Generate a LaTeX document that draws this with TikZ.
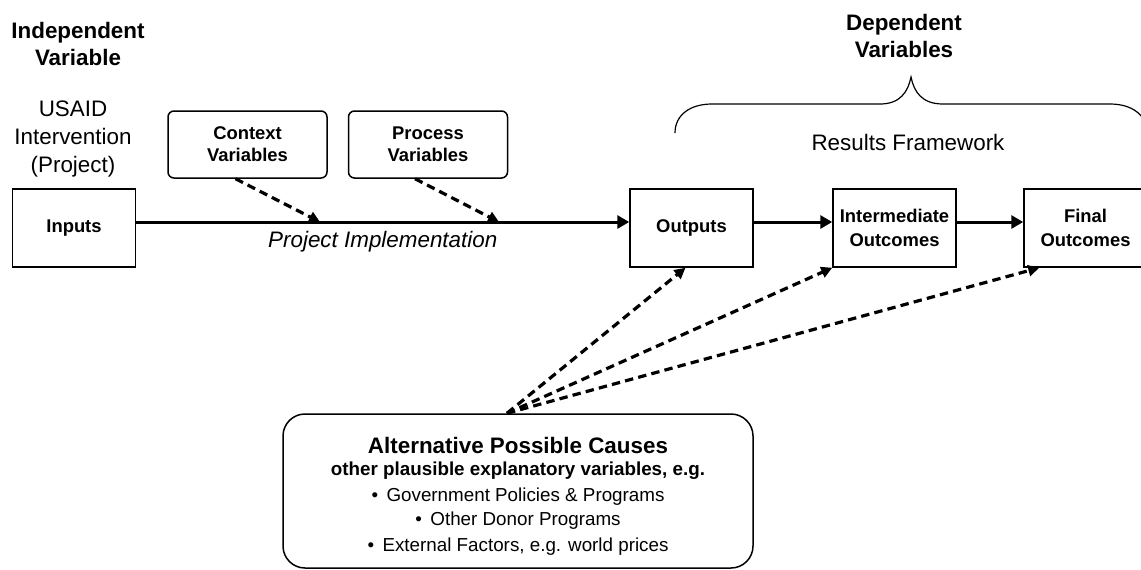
\documentclass[tikz,border=0pt]{standalone}
\usepackage{fontspec}
\setmainfont{Liberation Sans}
\usetikzlibrary{arrows.meta}
\begin{document}
\begin{tikzpicture}[x=0.5pt,y=-0.5pt,
  box/.style={draw,line width=0.75pt,minimum width=61.5pt,minimum height=39pt,align=center,
    font=\fontsize{9.2}{11.8}\selectfont\bfseries,inner sep=1pt},
  varbox/.style={draw,line width=0.75pt,rounded corners=3pt,minimum width=79.5pt,minimum height=33.5pt,
    align=center,font=\fontsize{9.2}{11}\selectfont\bfseries,inner sep=1pt},
  causebox/.style={draw,line width=0.75pt,rounded corners=11pt,minimum width=235pt,minimum height=77pt,
    inner sep=0pt},
  causetext/.style={align=center,inner sep=0pt},
  flow/.style={line width=1.5pt,-{Triangle[length=6pt,width=6.5pt]}},
  influence/.style={line width=1.6pt,dash pattern=on 4.2pt off 2.6pt,-{Triangle[length=5.5pt,width=5.5pt]}},
  big/.style={font=\fontsize{11.2}{13.6}\selectfont,align=center,inner sep=0pt},
  brace/.style={line width=0.6pt},
]
\useasboundingbox (0,0) rectangle (1141,569);

% headings
\node[big,font=\fontsize{11.2}{13.6}\selectfont\bfseries] (indep) at (78,44) {Independent\\Variable};
\node[big,font=\fontsize{11.2}{14}\selectfont] (usaid) at (73,139) {USAID\\Intervention\\(Project)};
\node[big,font=\fontsize{11.2}{13.6}\selectfont\bfseries] (dep) at (904,36) {Dependent\\Variables};
\node[big] (rf) at (908,142) {Results Framework};

% boxes
\node[box] (inputs) at (74,228) {Inputs};
\node[box] (outputs) at (691.5,228) {Outputs};
\node[box] (inter) at (894.5,228) {Intermediate\\Outcomes};
\node[box] (final) at (1085.5,228) {Final\\Outcomes};
\node[varbox] (context) at (247.5,144.5) {Context\\Variables};
\node[varbox] (process) at (428,144.5) {Process\\Variables};

\node[causebox] (alt) at (518,491) {};
\node[causetext] (alttext) at (518,496) {%
  {\fontsize{11.2}{13}\selectfont\bfseries Alternative Possible Causes}\\[-1pt]
  {\fontsize{9.4}{11.5}\selectfont\bfseries other plausible explanatory variables, e.g.}\\[1pt]
  {\fontsize{9.4}{11.5}\selectfont \textbullet\hspace{0.45em}Government Policies \& Programs}\\[0pt]
  {\fontsize{9.4}{11.5}\selectfont \textbullet\hspace{0.45em}Other Donor Programs}\\[1pt]
  {\fontsize{9.4}{11.5}\selectfont \textbullet\hspace{0.45em}External Factors, e.g. world prices}};

% main flow
\draw[flow] ([yshift=3pt]inputs.east) -- ([yshift=3pt]outputs.west)
  node[pos=0.5,below=4pt,font=\fontsize{11.2}{13}\selectfont\itshape,inner sep=0pt] (impl) {Project Implementation};
\draw[flow] ([yshift=3pt]outputs.east) -- ([yshift=3pt]inter.west);
\draw[flow] ([yshift=3pt]inter.east) -- ([yshift=3pt]final.west);

% context / process influences
\coordinate (c1) at (320,222);
\coordinate (c2) at (499,222);
\draw[influence] ([xshift=-6pt]context.south) -- (c1);
\draw[influence] ([xshift=-6.5pt]process.south) -- (c2);

% alternative causes
\coordinate (altsrc) at ([xshift=-5.5pt]alt.north);
\draw[influence] (altsrc) -- ([xshift=-3pt]outputs.south);
\draw[influence] (altsrc) -- (inter.south west);
\draw[influence] (altsrc) -- ([xshift=8pt]final.south west);

% brace
\draw[brace] (675,133) .. controls (675,115) and (690,104) .. (712,104) -- (880,104)
  .. controls (900,104) and (908,92) .. (911,77)
  .. controls (914,92) and (922,104) .. (943,104) -- (1110,104)
  .. controls (1132,104) and (1147,115) .. (1147,133);
\end{tikzpicture}
\end{document}
